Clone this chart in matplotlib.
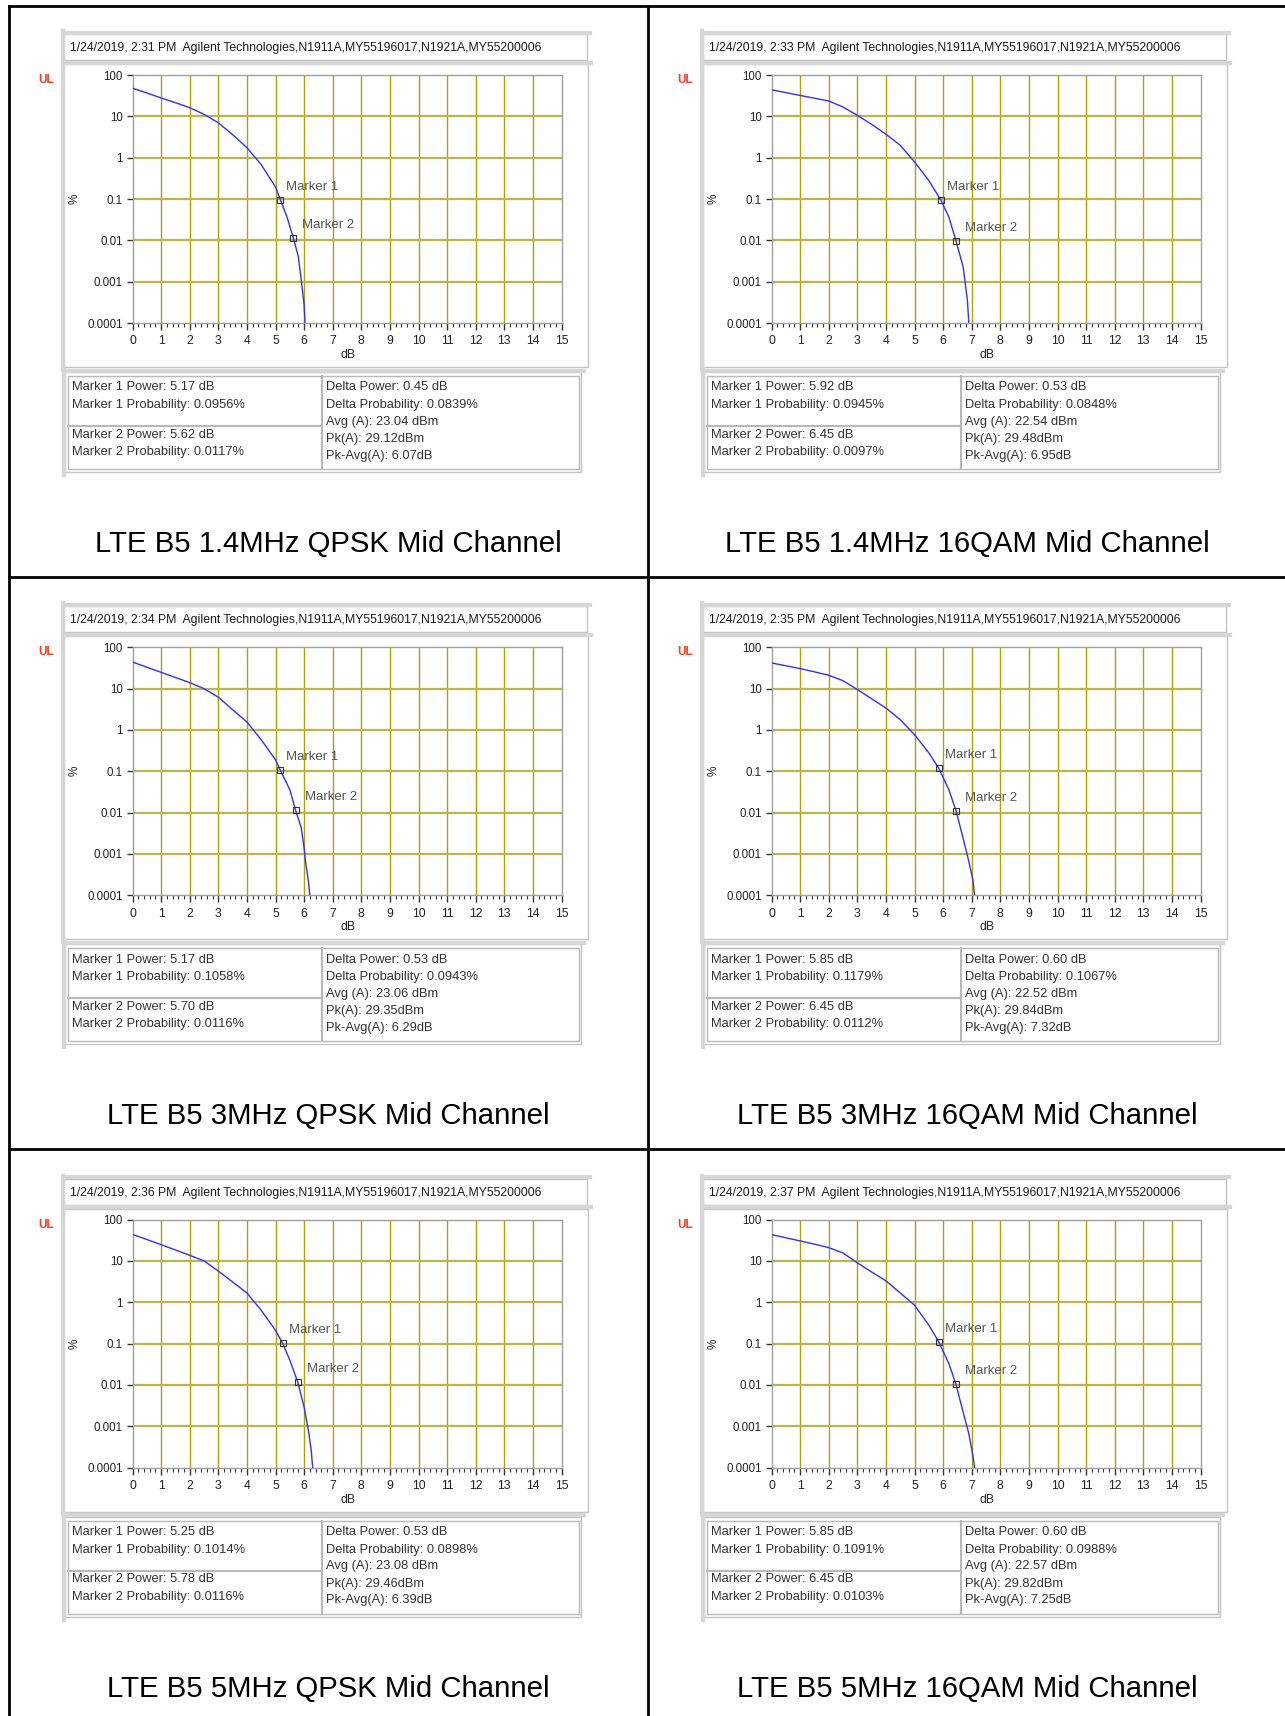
import matplotlib
matplotlib.use("Agg")
import matplotlib.pyplot as plt
from matplotlib.patches import Rectangle
from matplotlib.ticker import FixedLocator, MultipleLocator, NullFormatter

W, H = 1285, 1716

# CCDF curves: power above average (dB) vs probability (%)
db_1 = [0, 0.5, 1, 1.5, 2, 2.5, 3, 3.5, 4, 4.5, 5, 5.17, 5.4, 5.62, 5.8, 5.9, 6.0, 6.03]
pct_1 = [48, 36.7, 27.8, 21.4, 16.2, 11.2, 7.0, 3.6, 1.75, 0.68, 0.195, 0.0956, 0.037, 0.0117, 0.004, 0.0011, 0.00027, 0.0001]

db_2 = [0, 0.5, 1, 1.5, 2, 2.5, 3, 3.5, 4, 4.5, 5, 5.5, 5.92, 6.2, 6.45, 6.7, 6.85, 6.9]
pct_2 = [44, 37.5, 32, 27.5, 23.5, 16.8, 10.6, 6.4, 3.7, 2.0, 0.79, 0.28, 0.0945, 0.037, 0.0097, 0.0023, 0.00035, 0.0001]

db_3 = [0, 0.5, 1, 1.5, 2, 2.5, 3, 3.5, 4, 4.5, 5, 5.17, 5.5, 5.7, 5.9, 6.0, 6.05, 6.15, 6.2]
pct_3 = [44, 33, 24.8, 18.6, 14, 10, 6.2, 3.1, 1.56, 0.58, 0.19, 0.1058, 0.036, 0.0116, 0.0043, 0.0014, 0.00066, 0.00022, 0.0001]

db_4 = [0, 0.5, 1, 1.5, 2, 2.5, 3, 3.5, 4, 4.5, 5, 5.5, 5.85, 6.2, 6.45, 6.7, 6.9, 7.05, 7.1]
pct_4 = [41.8, 35.8, 30.5, 25.5, 21, 15.6, 9.5, 5.7, 3.4, 1.78, 0.77, 0.28, 0.1179, 0.036, 0.0112, 0.0024, 0.00066, 0.00022, 0.0001]

db_5 = [0, 0.5, 1, 1.5, 2, 2.5, 3, 3.5, 4, 4.5, 5, 5.25, 5.5, 5.78, 6.0, 6.15, 6.25, 6.3]
pct_5 = [44, 33, 24.8, 18.4, 13.7, 10, 5.7, 3.1, 1.68, 0.64, 0.21, 0.1014, 0.04, 0.0116, 0.0029, 0.0008, 0.00026, 0.0001]

db_6 = [0, 0.5, 1, 1.5, 2, 2.5, 3, 3.5, 4, 4.5, 5, 5.5, 5.85, 6.2, 6.45, 6.7, 6.9, 7.05, 7.1]
pct_6 = [43.4, 36.4, 30.5, 25.5, 21, 15.6, 9, 5.4, 3.3, 1.68, 0.85, 0.28, 0.1091, 0.033, 0.0103, 0.0022, 0.00066, 0.00018, 0.0001]

curves_db = [db_1, db_2, db_3, db_4, db_5, db_6]
curves_pct = [pct_1, pct_2, pct_3, pct_4, pct_5, pct_6]

# marker readouts
m1_power = [5.17, 5.92, 5.17, 5.85, 5.25, 5.85]
m1_prob = [0.0956, 0.0945, 0.1058, 0.1179, 0.1014, 0.1091]
m2_power = [5.62, 6.45, 5.70, 6.45, 5.78, 6.45]
m2_prob = [0.0117, 0.0097, 0.0116, 0.0112, 0.0116, 0.0103]
delta_power = [0.45, 0.53, 0.53, 0.60, 0.53, 0.60]
delta_prob = [0.0839, 0.0848, 0.0943, 0.1067, 0.0898, 0.0988]
avg_dbm = [23.04, 22.54, 23.06, 22.52, 23.08, 22.57]
pk_dbm = [29.12, 29.48, 29.35, 29.84, 29.46, 29.82]
pk_avg = [6.07, 6.95, 6.29, 7.32, 6.39, 7.25]

times = ["2:31", "2:33", "2:34", "2:35", "2:36", "2:37"]
titles = [
    "LTE B5 1.4MHz QPSK Mid Channel",
    "LTE B5 1.4MHz 16QAM Mid Channel",
    "LTE B5 3MHz QPSK Mid Channel",
    "LTE B5 3MHz 16QAM Mid Channel",
    "LTE B5 5MHz QPSK Mid Channel",
    "LTE B5 5MHz 16QAM Mid Channel",
]
ytick_vals = [100, 10, 1, 0.1, 0.01, 0.001, 0.0001]
ytick_labels = ["100", "10", "1", "0.1", "0.01", "0.001", "0.0001"]
xtick_vals = list(range(0, 16))

small_font = "Liberation Sans"
grid_color = "#aca200"
frame_gray = "#c4c4c4"

fig = plt.figure(figsize=(W / 100, H / 100), dpi=100)
bg = fig.add_axes([0, 0, 1, 1])
bg.set_xlim(0, W)
bg.set_ylim(H, 0)
bg.axis("off")

# table lines
bg.plot([8.5, W], [5.5, 5.5], color="black", lw=2)
bg.plot([8.5, 8.5], [5.5, H], color="black", lw=2)
bg.plot([648, 648], [5.5, H], color="black", lw=2)
bg.plot([8.5, W], [577, 577], color="black", lw=2)
bg.plot([8.5, W], [1149, 1149], color="black", lw=2)


def bevel_box(x0, y0, x1, y1):
    bg.add_patch(Rectangle((x0, y0), x1 - x0, y1 - y0, fill=False,
                           edgecolor=frame_gray, lw=1))
    bg.plot([x0, x1 + 3], [y0 - 1.5, y0 - 1.5], color="#d6d6d6", lw=3)
    bg.plot([x0 - 1.5, x0 - 1.5], [y0 - 3, y1 + 3], color="#d6d6d6", lw=3)


def to_fig(x0, y0, x1, y1):
    return [x0 / W, 1 - y1 / H, (x1 - x0) / W, (y1 - y0) / H]


for i in range(6):
    r, c = divmod(i, 2)
    dx = c * 639
    dy = r * 572.3

    # header strip
    bevel_box(64 + dx, 34 + dy, 587 + dx, 60 + dy)
    bg.text(70 + dx, 48 + dy,
            "1/24/2019, %s PM  Agilent Technologies,N1911A,MY55196017,N1921A,MY55200006" % times[i],
            fontsize=8.85, family=small_font, color="#1a1a1a", va="center", ha="left")

    # graph panel
    bevel_box(64 + dx, 64 + dy, 588 + dx, 367 + dy)
    bg.text(38 + dx, 80 + dy, "UL", color="#ff3b1f", fontsize=8.5,
            fontweight="bold", family=small_font, va="center", ha="left")
    bg.text(75 + dx, 199 + dy, "%", fontsize=8.5, family=small_font, rotation=90,
            va="center", ha="center", color="#222222")
    bg.text(348 + dx, 355 + dy, "dB", fontsize=8.8, family=small_font,
            va="center", ha="center", color="#222222")

    ax = fig.add_axes(to_fig(132.5 + dx, 75 + dy, 561.5 + dx, 323 + dy))
    ax.set_yscale("log")
    ax.set_xlim(0, 15)
    ax.set_ylim(0.0001, 100)
    ax.yaxis.set_major_locator(FixedLocator(ytick_vals))
    ax.set_yticklabels(ytick_labels)
    ax.yaxis.set_minor_locator(FixedLocator([]))
    ax.xaxis.set_major_locator(FixedLocator(xtick_vals))
    ax.xaxis.set_minor_locator(MultipleLocator(0.2))
    ax.xaxis.set_minor_formatter(NullFormatter())
    ax.tick_params(axis="y", which="major", length=4, width=1, pad=3,
                   labelsize=8.3, colors="#333333", labelcolor="#222222")
    ax.tick_params(axis="x", which="major", length=5, width=1, pad=4,
                   labelsize=8.8, colors="#333333", labelcolor="#222222")
    ax.tick_params(axis="x", which="minor", length=3, width=0.8, colors="#333333")
    for lab in ax.get_xticklabels() + ax.get_yticklabels():
        lab.set_family(small_font)
    for sp in ax.spines.values():
        sp.set_color("#a0a0a0")
        sp.set_linewidth(1)

    for xv in xtick_vals[1:-1]:
        ax.axvline(xv, color=grid_color, lw=1, zorder=1)
    for yv in ytick_vals[1:-1]:
        ax.axhline(yv, color="#bdb44a", lw=1.6, zorder=1)

    ax.plot(curves_db[i], curves_pct[i], color="#3030ff", lw=1, zorder=3)
    ax.plot([m1_power[i], m2_power[i]], [m1_prob[i], m2_prob[i]], ls="none",
            marker="s", ms=4.5, mfc="none", mec="#333333", mew=0.8, zorder=4)
    ax.annotate("Marker 1", (m1_power[i], m1_prob[i]), xytext=(6, 7),
                textcoords="offset pixels", fontsize=9.5, family=small_font,
                color="#555555", va="bottom", ha="left")
    ax.annotate("Marker 2", (m2_power[i], m2_prob[i]), xytext=(9, 7),
                textcoords="offset pixels", fontsize=9.5, family=small_font,
                color="#555555", va="bottom", ha="left")

    # readout box
    bevel_box(65 + dx, 372 + dy, 581 + dx, 472 + dy)
    bg.add_patch(Rectangle((68 + dx, 376 + dy), 511, 93, fill=False,
                           edgecolor="#b8b8b8", lw=1))
    bg.plot([322 + dx, 322 + dx], [376 + dy, 469 + dy], color="#b8b8b8", lw=1.5)
    bg.plot([68 + dx, 322 + dx], [426 + dy, 426 + dy], color="#b8b8b8", lw=1.5)
    left_lines = [
        (387.5, "Marker 1 Power: %.2f dB" % m1_power[i]),
        (405, "Marker 1 Probability: %.4f%%" % m1_prob[i]),
        (434.5, "Marker 2 Power: %.2f dB" % m2_power[i]),
        (452, "Marker 2 Probability: %.4f%%" % m2_prob[i]),
    ]
    right_lines = [
        (387.5, "Delta Power: %.2f dB" % delta_power[i]),
        (405, "Delta Probability: %.4f%%" % delta_prob[i]),
        (421.5, "Avg (A): %.2f dBm" % avg_dbm[i]),
        (439, "Pk(A): %.2fdBm" % pk_dbm[i]),
        (455.5, "Pk-Avg(A): %.2fdB" % pk_avg[i]),
    ]
    for yy, s in left_lines:
        bg.text(72 + dx, yy + dy, s, fontsize=9.3, family=small_font,
                color="#333333", va="center", ha="left")
    for yy, s in right_lines:
        bg.text(326 + dx, yy + dy, s, fontsize=9.3, family=small_font,
                color="#333333", va="center", ha="left")

    bg.text(328 + dx, 544 + dy, titles[i], fontsize=21.2, family="Liberation Sans",
            color="black", va="center", ha="center")

fig.savefig("out.png", dpi=100)
